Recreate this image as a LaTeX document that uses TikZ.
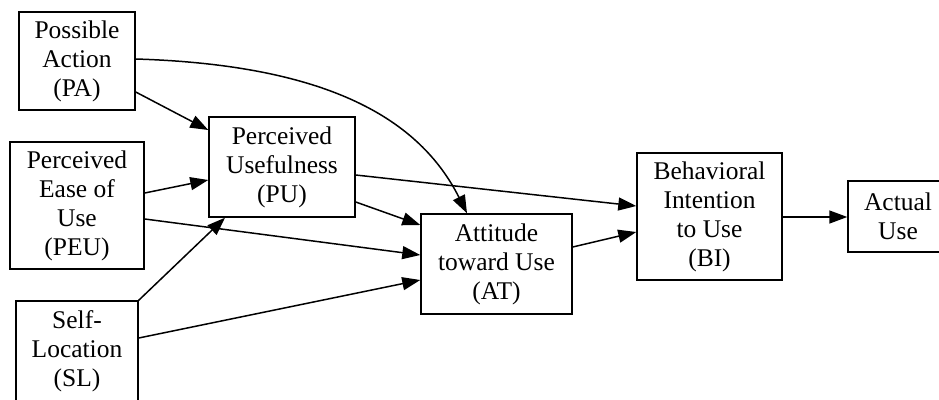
\documentclass[tikz,border=0pt]{standalone}
\usepackage{fontspec}
\setmainfont{Liberation Serif}
\usetikzlibrary{arrows.meta}
\begin{document}
\begin{tikzpicture}[x=0.02cm,y=-0.02cm,line width=0.85pt,
	box/.style={draw,rectangle,align=center,inner sep=0pt,font=\fontsize{14.5}{16.5}\selectfont},
	arr/.style={-{Triangle[length=0.36cm,width=0.26cm]}}]
\fill [white] (0,0) rectangle (939,399);
\clip (0,0) rectangle (939,399);

\node (pa) at (77,61) [box,minimum width=2.32cm,minimum height=1.96cm] {Possible\\Action\\(PA)};
\node (peu) at (77,205.5) [box,minimum width=2.68cm,minimum height=2.54cm] {Perceived\\Ease of\\Use\\(PEU)};
\node (sl) at (77,351) [box,minimum width=2.44cm,minimum height=2cm] {Self-\\Location\\(SL)};
\node (pu) at (282,167) [box,minimum width=2.92cm,minimum height=2cm] {Perceived\\Usefulness\\(PU)};
\node (at) at (496.5,264) [box,minimum width=3.02cm,minimum height=2cm] {Attitude\\toward Use\\(AT)};
\node (bi) at (709.5,216.5) [box,minimum width=2.9cm,minimum height=2.54cm] {Behavioral\\Intention\\to Use\\(BI)};
\node (au) at (898,216.5) [box,minimum width=2cm,minimum height=1.42cm] {Actual\\Use};

\draw [arr] (pa.east |- 0,59) .. controls (330,65) and (420,120) .. (467,0 |- at.north);
\draw [arr] (pa.east |- 0,92) -- (pu.west |- 0,130);
\draw [arr] (peu.east |- 0,193) -- (pu.west |- 0,180);
\draw [arr] (peu.east |- 0,219) -- (at.west |- 0,255);
\draw [arr] (sl.north east) -- (225,0 |- pu.south);
\draw [arr] (sl.east |- 0,338) -- (at.west |- 0,280);
\draw [arr] (pu.east |- 0,175) -- (bi.west |- 0,206);
\draw [arr] (pu.east |- 0,202) -- (at.west |- 0,225);
\draw [arr] (at.east |- 0,247) -- (bi.west |- 0,232);
\draw [arr] (bi.east |- 0,217) -- (au.west |- 0,217);
\end{tikzpicture}
\end{document}
